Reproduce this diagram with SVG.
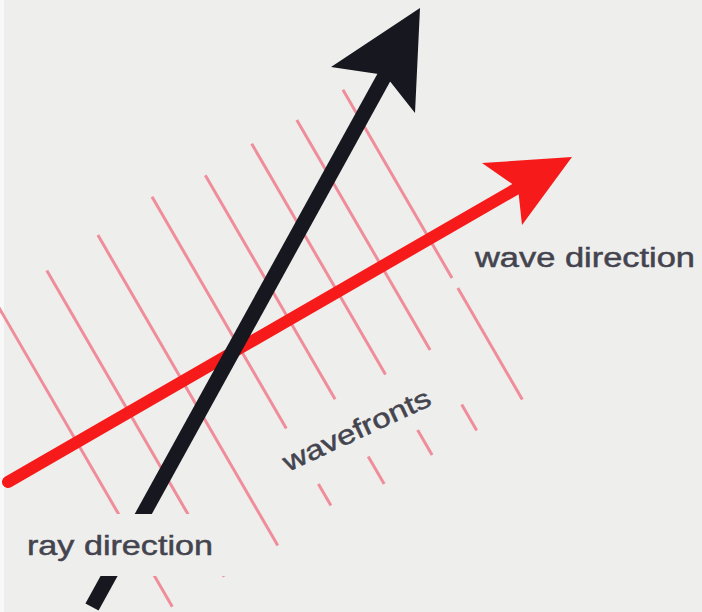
<svg xmlns="http://www.w3.org/2000/svg" width="702" height="612" viewBox="0 0 702 612">
<style>
.bg{fill:#eeeeec}
.wf{stroke:#ef8e9a;stroke-width:3;fill:none;stroke-linecap:butt}
.red{stroke:#f71a1a;stroke-width:12;fill:none;stroke-linecap:round}
.redhead{fill:#f71a1a}
.blk{stroke:#17171f;stroke-width:15;fill:none;stroke-linecap:butt}
.blkhead{fill:#17171f}
.lbl{font-family:"Liberation Sans",Arial,sans-serif;fill:#44444f;stroke:#44444f;stroke-width:0.5}
</style>
<rect class="bg" x="0" y="0" width="702" height="612"/>
<rect x="0" y="0" width="4" height="612" fill="#f8f8f8"/>
<g id="wavefront-lines">
<line class="wf" x1="-8.1" y1="295.4" x2="172.3" y2="606.8"/>
<line class="wf" x1="46.8" y1="270.5" x2="224.2" y2="576.7"/>
<line class="wf" x1="97.9" y1="235.1" x2="277.8" y2="545.6"/>
<line class="wf" x1="152.0" y1="196.8" x2="286.3" y2="428.6"/>
<line class="wf" x1="318.4" y1="484.0" x2="330.9" y2="505.6"/>
<line class="wf" x1="205.3" y1="175.2" x2="335.1" y2="399.3"/>
<line class="wf" x1="368.2" y1="456.4" x2="384.2" y2="484.1"/>
<line class="wf" x1="251.7" y1="143.7" x2="385.5" y2="374.6"/>
<line class="wf" x1="417.6" y1="430.0" x2="432.1" y2="455.1"/>
<line class="wf" x1="296.8" y1="119.9" x2="430.1" y2="350.0"/>
<line class="wf" x1="461.7" y1="404.5" x2="476.7" y2="430.4"/>
<line class="wf" x1="342.9" y1="89.7" x2="452.0" y2="278.0"/>
<line class="wf" x1="457.8" y1="288.0" x2="522.3" y2="399.4"/>
</g>
<g id="connectors">
<g id="wave-direction-arrow">
<line class="red" x1="8" y1="482" x2="528" y2="182"/>
<polygon class="redhead" points="572,157 522,225 518,188 482,163"/>
</g>
<g id="ray-direction-arrow">
<line class="blk" x1="92" y1="607" x2="388" y2="70"/>
<polygon class="blkhead" points="420,8 415,113 385,75 331,67"/>
</g>
</g>
<g id="label-ray-direction">
<rect class="bg" x="4" y="514" width="248" height="62"/>
<text class="lbl" x="27" y="555" font-size="28" textLength="186" lengthAdjust="spacingAndGlyphs">ray direction</text>
</g>
<g id="label-wave-direction">
<text class="lbl" x="475" y="267" font-size="27" textLength="220" lengthAdjust="spacingAndGlyphs">wave direction</text>
</g>
<g id="label-wavefronts">
<text class="lbl" transform="translate(288,472) rotate(-25)" x="0" y="0" font-size="27" textLength="160" lengthAdjust="spacingAndGlyphs">wavefronts</text>
</g>
</svg>
